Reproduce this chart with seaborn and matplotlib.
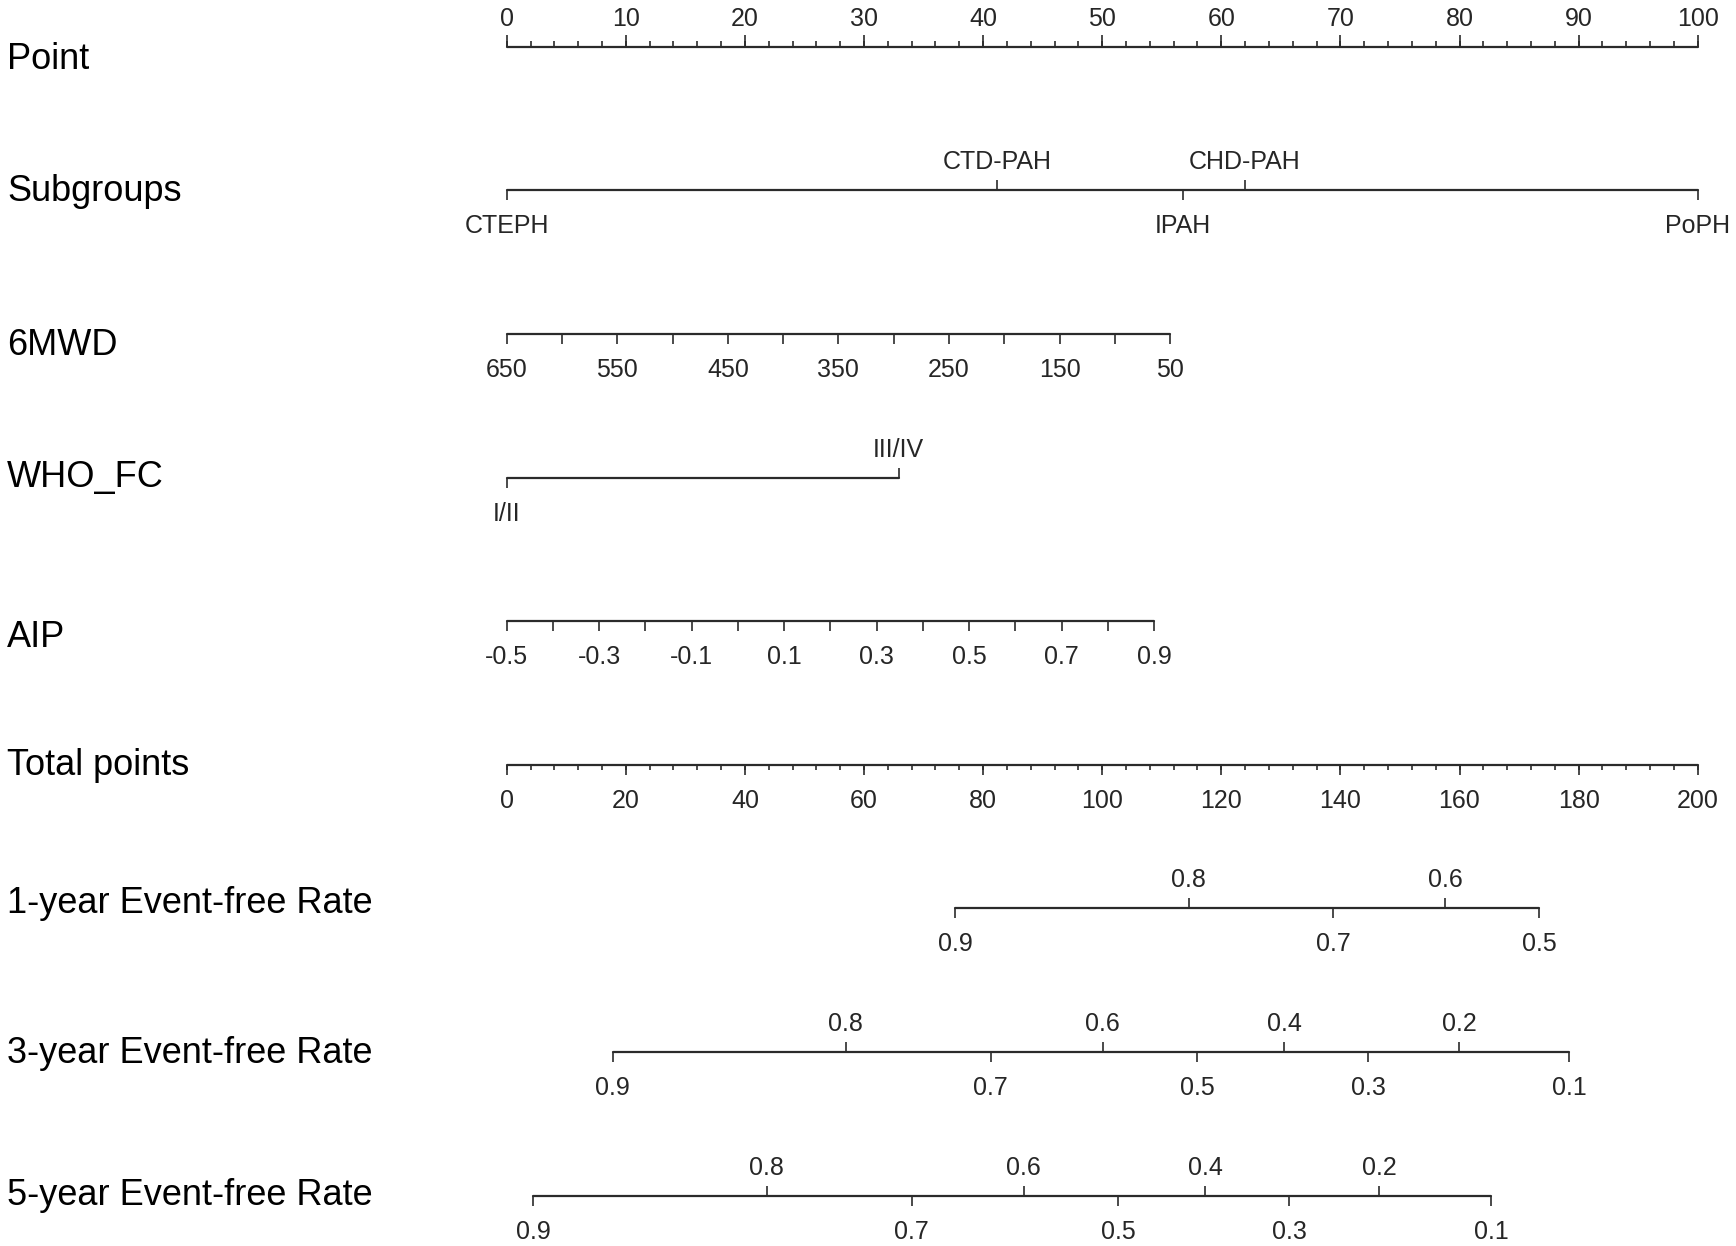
import numpy as np
import matplotlib
matplotlib.use("Agg")
import matplotlib.pyplot as plt
import seaborn as sns

# nomogram data: every scale is given by the points its values sit on
point_labels = [0, 10, 20, 30, 40, 50, 60, 70, 80, 90, 100]

subgroups = ["CTEPH", "CTD-PAH", "IPAH", "CHD-PAH", "PoPH"]
subgroup_points = [0, 41.2, 56.8, 62.0, 100]

mwd_values = [650, 600, 550, 500, 450, 400, 350, 300, 250, 200, 150, 100, 50]
mwd_labels = [650, 550, 450, 350, 250, 150, 50]
mwd_max_points = 55.7        # points at 6MWD = 50 (650 gives 0)

who_fc = ["I/II", "III/IV"]
who_points = [0, 32.9]

aip_values = [-0.5, -0.4, -0.3, -0.2, -0.1, 0.0, 0.1, 0.2, 0.3, 0.4, 0.5, 0.6, 0.7, 0.8, 0.9]
aip_labels = [-0.5, -0.3, -0.1, 0.1, 0.3, 0.5, 0.7, 0.9]
aip_max_points = 54.35       # points at AIP = 0.9 (-0.5 gives 0)

total_labels = [0, 20, 40, 60, 80, 100, 120, 140, 160, 180, 200]

# event-free rates and the total points where they fall
rate1_labels = ["0.9", "0.8", "0.7", "0.6", "0.5"]
rate1_total = [75.3, 114.5, 138.8, 157.6, 173.4]
rate3_labels = ["0.9", "0.8", "0.7", "0.6", "0.5", "0.4", "0.3", "0.2", "0.1"]
rate3_total = [17.8, 56.9, 81.3, 100.1, 116.0, 130.6, 144.7, 159.9, 178.4]
rate5_labels = ["0.9", "0.8", "0.7", "0.6", "0.5", "0.4", "0.3", "0.2", "0.1"]
rate5_total = [4.5, 43.7, 68.0, 86.8, 102.7, 117.3, 131.4, 146.5, 165.3]

row_names = ["Point", "Subgroups", "6MWD", "WHO_FC", "AIP", "Total points",
             "1-year Event-free Rate", "3-year Event-free Rate", "5-year Event-free Rate"]

# layout (pixels of the 1736x1246 canvas)
row_y = [46.8 + 143.6 * i for i in range(9)]
name_baseline = [69, 201, 355, 487, 647, 775, 913, 1063, 1205]
line_col = "#2b2b2b"
text_col = "#262626"
tick_fs = 18
name_fs = 26
major_len = 10
minor_len = 5.5
up_off = -28
down_off = 36

sns.set_theme(style="white")
plt.rcParams["font.family"] = ["Liberation Sans", "DejaVu Sans"]

fig = plt.figure(figsize=(17.36, 12.46), dpi=100)
ax = fig.add_axes([0, 0, 1, 1])
px_per_point = 11.91
x0 = 506.7
ax.set_xlim(-x0 / px_per_point, (1736 - x0) / px_per_point)
ax.set_ylim(1246, 0)
ax.axis("off")


def axis_line(y, xs):
    sns.lineplot(x=[min(xs), max(xs)], y=[y, y], ax=ax, color=line_col,
                 lw=1.6, legend=False, sort=False)


def ticks(y, xs, length, up=False):
    sign = -1 if up else 1
    ax.vlines(xs, y, y + sign * length, color=line_col, lw=1.2)


def labels(y, xs, texts, up=False):
    off = up_off if up else down_off
    for x, t in zip(xs, texts):
        ax.text(x, y + off, t, ha="center", va="center", fontsize=tick_fs,
                color=text_col)


# row names
for name, yb in zip(row_names, name_baseline):
    ax.text(-x0 / px_per_point + 7 / px_per_point, yb, name, ha="left",
            va="baseline", fontsize=name_fs, color="black")

# Point
y = row_y[0]
axis_line(y, point_labels)
ticks(y, np.arange(0, 101, 2), minor_len, up=True)
ticks(y, point_labels, major_len + 2, up=True)
labels(y, point_labels, [str(v) for v in point_labels], up=True)

# Subgroups
y = row_y[1]
axis_line(y, subgroup_points)
sides = [False, True, False, True, False]
for p, s, up in zip(subgroup_points, subgroups, sides):
    ticks(y, [p], major_len, up=up)
    labels(y, [p], [s], up=up)

# 6MWD
y = row_y[2]
mwd_x = [(650 - v) / 600 * mwd_max_points for v in mwd_values]
axis_line(y, mwd_x)
ticks(y, mwd_x, major_len)
labels(y, [(650 - v) / 600 * mwd_max_points for v in mwd_labels],
       [str(v) for v in mwd_labels])

# WHO_FC
y = row_y[3]
axis_line(y, who_points)
ticks(y, [who_points[0]], major_len)
labels(y, [who_points[0]], [who_fc[0]])
ticks(y, [who_points[1]], major_len, up=True)
labels(y, [who_points[1]], [who_fc[1]], up=True)

# AIP
y = row_y[4]
aip_x = [(v + 0.5) / 1.4 * aip_max_points for v in aip_values]
axis_line(y, aip_x)
ticks(y, aip_x, major_len)
labels(y, [(v + 0.5) / 1.4 * aip_max_points for v in aip_labels],
       [f"{v:.1f}" for v in aip_labels])

# Total points (scale 0-200 on the same width as 0-100)
y = row_y[5]
tot_x = [v / 2 for v in total_labels]
axis_line(y, tot_x)
ticks(y, np.arange(0, 201, 4) / 2, minor_len)
ticks(y, tot_x, major_len)
labels(y, tot_x, [str(v) for v in total_labels])

# event-free rate rows: labels alternate below / above
for i, (labs, tots) in enumerate([(rate1_labels, rate1_total),
                                  (rate3_labels, rate3_total),
                                  (rate5_labels, rate5_total)]):
    y = row_y[6 + i]
    xs = [t / 2 for t in tots]
    axis_line(y, xs)
    for k, (x, t) in enumerate(zip(xs, labs)):
        up = k % 2 == 1
        ticks(y, [x], major_len, up=up)
        labels(y, [x], [t], up=up)

fig.savefig("out.png", dpi=100)
